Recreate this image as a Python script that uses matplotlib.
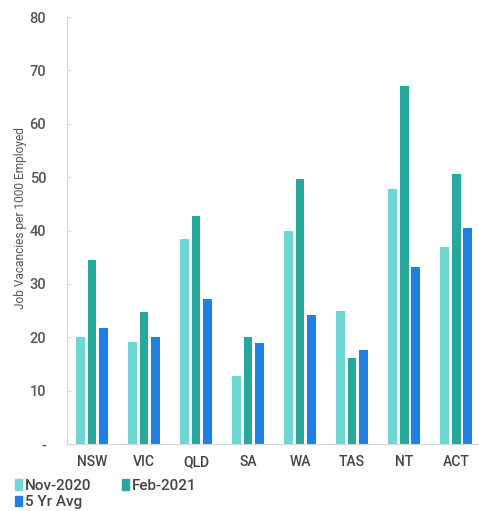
import numpy as np
import matplotlib
matplotlib.use("Agg")
import matplotlib.pyplot as plt
from matplotlib.patches import Patch

plt.rcParams['font.family'] = ['Roboto', 'DejaVu Sans']

states = ["NSW", "VIC", "QLD", "SA", "WA", "TAS", "NT", "ACT"]
nov_2020 = [20.1, 19.2, 38.4, 12.8, 40.0, 25.0, 47.7, 37.0]
feb_2021 = [34.4, 24.7, 42.8, 20.1, 49.6, 16.2, 67.1, 50.6]
avg_5yr = [21.7, 20.1, 27.2, 19.0, 24.2, 17.6, 33.2, 40.5]
series_names = ["Nov-2020", "Feb-2021", "5 Yr Avg"]

c_nov = "#6dd8d3"
c_feb = "#26a99c"
c_avg = "#1f80e3"

fig = plt.figure(figsize=(4.79, 5.11), dpi=100)
ax = fig.add_axes([67 / 479, 1 - 444 / 511, (479 - 67) / 479, (444 - 17) / 511])

x = np.arange(len(states))
pitch = 0.225
width = 0.17
ax.bar(x - pitch, nov_2020, width, color=c_nov)
ax.bar(x, feb_2021, width, color=c_feb)
ax.bar(x + pitch, avg_5yr, width, color=c_avg)

ax.set_xlim(-0.48, 7.44)
ax.set_ylim(0, 80)
ax.set_yticks(range(0, 81, 10))
ax.set_yticklabels(["-"] + [str(v) for v in range(10, 81, 10)], fontweight="medium")
ax.set_xticks(x)
ax.set_xticklabels(states, fontweight="medium")

for side in ["top", "right"]:
    ax.spines[side].set_visible(False)
ax.spines["left"].set_color("#d8d8d8")
ax.spines["bottom"].set_color("#d8d8d8")
ax.tick_params(axis="y", direction="in", length=3, color="#d8d8d8",
               pad=15, labelsize=10.5, labelcolor="#555555")
ax.tick_params(axis="x", length=0, pad=8, labelsize=10, labelcolor="#444444")

ax.set_ylabel("Job Vacancies per 1000 Employed", fontsize=8.6, color="#555555")
ax.yaxis.set_label_coords(-0.098, 0.53)

# legend: first column Nov/5 Yr, second column Feb so rows read Nov, Feb / 5 Yr
handles = [Patch(color=c_nov), Patch(color=c_avg), Patch(color=c_feb)]
labels = [series_names[0], series_names[2], series_names[1]]
fig.legend(handles, labels, ncol=2, loc="upper left", bbox_to_anchor=(0.031, 1 - 479 / 511),
           frameon=False, handlelength=0.5, handleheight=0.7,
           handletextpad=0.15, columnspacing=2.0, labelspacing=0.15,
           borderaxespad=0.0, borderpad=0.0, labelcolor="#444444",
           prop={"size": 11, "weight": "medium"})

fig.savefig("out.png", dpi=100)
